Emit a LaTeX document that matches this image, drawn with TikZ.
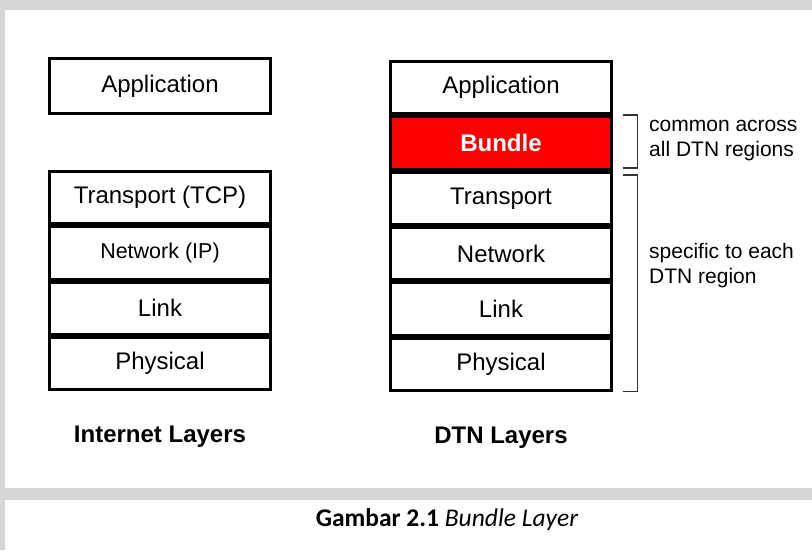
\documentclass[tikz,border=0pt]{standalone}
\usepackage{fontspec}
\setmainfont{Liberation Sans}
\newfontfamily\capfont{Carlito}
\usepackage{tikz}
\usetikzlibrary{matrix,positioning}
\definecolor{pagegray}{RGB}{214,214,214}
\definecolor{bundlered}{RGB}{255,0,0}
\newcommand{\lsize}{\fontsize{24}{28}\selectfont}
\newcommand{\nsize}{\fontsize{21}{25}\selectfont}
\tikzset{
	layerbox/.style={draw,line width=3pt,minimum width=221pt,minimum height=52.3pt,outer sep=0pt,font=\lsize},
	bundlebox/.style={fill=bundlered,text=white,font=\lsize\bfseries},
	stacklabel/.style={font=\lsize\bfseries,inner sep=0pt},
	sidenote/.style={font=\nsize,align=left,inner sep=0pt,anchor=west},
	bracket/.style={line width=1.5pt,black!80}
}

\begin{document}
\begin{tikzpicture}[x=1pt,y=1pt]
	\useasboundingbox (0,0) rectangle (812,550);
	\fill[pagegray] (0,0) rectangle (812,550);
	\fill[white] (5,62) rectangle (812,540);
	\fill[white] (5,0) rectangle (812,50);
	
	\matrix (inet) [matrix of nodes,anchor=north west,inner sep=0pt,outer sep=0pt,row sep=0pt,nodes={layerbox}] at (48,493)
	{
		|[minimum height=55pt]| Application \\[55pt]
		Transport (TCP) \\
		|[font=\fontsize{21.5}{26}\selectfont]| Network (IP) \\
		Link \\
		Physical \\};
	\matrix (dtn) [matrix of nodes,anchor=north west,inner sep=0pt,outer sep=0pt,row sep=0pt,nodes={layerbox}] at (389,490)
	{
		Application \\
		|[bundlebox]| Bundle \\
		Transport \\
		Network \\
		Link \\
		Physical \\};
	
	\node[stacklabel,below=35pt of inet] (inetname) {Internet Layers};
	\node[stacklabel,below=35pt of dtn] (dtnname) {DTN Layers};
	
	%\draw[bracket] (dtn-2-1.north east) -- (dtn-6-1.south east);
	\draw[bracket] ([shift={(11,2)}]dtn-2-1.north east) -- ++(15,0) |- ([shift={(11,1)}]dtn-2-1.south east);
	\draw[bracket] ([shift={(11,-3)}]dtn-3-1.north east) -- ++(15,0) |- ([shift={(11,-1)}]dtn-6-1.south east);
	\node[sidenote] (common) at (649,409) {common across\\all DTN regions};
	\node[sidenote] (specific) at (649,284.5) {specific to each\\DTN region};
	
	\node[font=\capfont\fontsize{25.5}{30}\selectfont] (caption) at (447,30) {\textbf{Gambar 2.1} \textit{Bundle Layer}};
\end{tikzpicture}
\end{document}
